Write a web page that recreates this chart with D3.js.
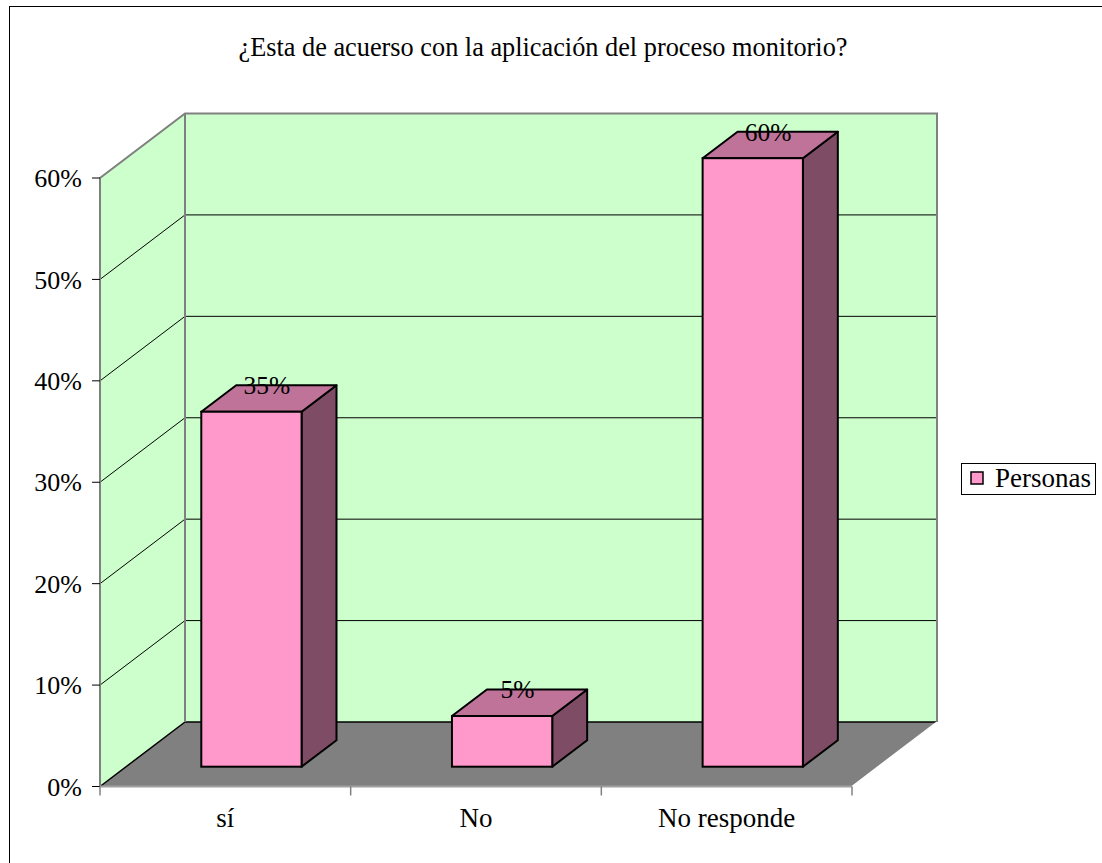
<!DOCTYPE html>
<html>
<head>
<meta charset="utf-8">
<script src="https://cdn.jsdelivr.net/npm/d3@7"></script>
<style>
  body { margin: 0; background: #fff; }
</style>
</head>
<body>
<div id="chart"></div>
<script>
// chart data
var categories = ["sí", "No", "No responde"];
var values = [0.35, 0.05, 0.60];
var valueLabels = ["35%", "5%", "60%"];
var yTicks = [0, 0.1, 0.2, 0.3, 0.4, 0.5, 0.6];
var seriesName = "Personas";
var title = "¿Esta de acuerso con la aplicación del proceso monitorio?";

var width = 1102, height = 863;
var DX = 85, DY = -64.5;           // depth offset of the back wall
var F0 = 0.307, F1 = 0.718;        // depth fraction of bar front / back
var FONT = "'Liberation Serif', 'Times New Roman', Times, serif";

var svg = d3.select("#chart").append("svg")
  .attr("width", width)
  .attr("height", height)
  .attr("font-family", FONT);

// outer chart border (runs off the bottom/right of the picture)
svg.append("rect")
  .attr("x", 9.5).attr("y", 6.5)
  .attr("width", 1100).attr("height", 870)
  .attr("fill", "#fff").attr("stroke", "#000").attr("stroke-width", 1);

var x = d3.scaleBand().domain(categories).range([100, 852]);
var y = d3.scaleLinear().domain([0, 0.6]).range([786.5, 178]);

function pts(arr) {
  return arr.map(function(p) { return p[0] + "," + p[1]; }).join(" ");
}

var x0 = x.range()[0], x1 = x.range()[1];
var yb = y(0), yt = y(0.6);

// side wall
svg.append("polygon")
  .attr("points", pts([[x0, yb], [x0 + DX, yb + DY], [x0 + DX, yt + DY], [x0, yt]]))
  .attr("fill", "#ccffcc");
// back wall
svg.append("polygon")
  .attr("points", pts([[x0 + DX, yb + DY], [x1 + DX, yb + DY], [x1 + DX, yt + DY], [x0 + DX, yt + DY]]))
  .attr("fill", "#ccffcc");
// floor
svg.append("polygon")
  .attr("points", pts([[x0, yb], [x1, yb], [x1 + DX, yb + DY], [x0 + DX, yb + DY]]))
  .attr("fill", "#808080");

// gridlines
var grid = yTicks.filter(function(t) { return t > 0 && t < 0.6; });
svg.selectAll(".grid-back").data(grid).enter().append("line")
  .attr("x1", x0 + DX).attr("x2", x1 + DX)
  .attr("y1", function(d) { return y(d) + DY; })
  .attr("y2", function(d) { return y(d) + DY; })
  .attr("stroke", "#000").attr("stroke-width", 1);
svg.selectAll(".grid-side").data(grid).enter().append("line")
  .attr("x1", x0).attr("x2", x0 + DX)
  .attr("y1", function(d) { return y(d); })
  .attr("y2", function(d) { return y(d) + DY; })
  .attr("stroke", "#000").attr("stroke-width", 1);

// floor edges
svg.append("line").attr("x1", x0 + DX).attr("x2", x1 + DX)
  .attr("y1", yb + DY).attr("y2", yb + DY).attr("stroke", "#000").attr("stroke-width", 1.5);
svg.append("line").attr("x1", x0).attr("x2", x0 + DX)
  .attr("y1", yb).attr("y2", yb + DY).attr("stroke", "#000").attr("stroke-width", 1.5);
svg.append("line").attr("x1", x1).attr("x2", x1 + DX)
  .attr("y1", yb).attr("y2", yb + DY).attr("stroke", "#fff").attr("stroke-width", 1.5);

// wall outline
svg.append("path")
  .attr("d", "M" + x0 + "," + yb + "L" + x0 + "," + yt + "L" + (x0 + DX) + "," + (yt + DY) +
    "L" + (x1 + DX) + "," + (yt + DY) + "L" + (x1 + DX) + "," + (yb + DY))
  .attr("fill", "none").attr("stroke", "#808080").attr("stroke-width", 2);
svg.append("line").attr("x1", x0 + DX).attr("x2", x0 + DX)
  .attr("y1", yt + DY).attr("y2", yb + DY).attr("stroke", "#808080").attr("stroke-width", 2);
svg.append("line").attr("x1", x0).attr("x2", x1)
  .attr("y1", yb).attr("y2", yb).attr("stroke", "#a0a0a0").attr("stroke-width", 2);

// y axis ticks + labels
svg.selectAll(".ytick").data(yTicks).enter().append("line")
  .attr("x1", x0 - 8).attr("x2", x0)
  .attr("y1", function(d) { return y(d); })
  .attr("y2", function(d) { return y(d); })
  .attr("stroke", "#000").attr("stroke-width", 1);
svg.selectAll(".ylab").data(yTicks).enter().append("text")
  .attr("x", 82)
  .attr("y", function(d) { return y(d); })
  .attr("dy", "0.35em")
  .attr("text-anchor", "end")
  .attr("font-size", 26)
  .text(d3.format(".0%"));

// x axis ticks + labels
var xTickPos = categories.map(function(c) { return x(c); }).concat([x1]);
svg.selectAll(".xtick").data(xTickPos).enter().append("line")
  .attr("x1", function(d) { return d; }).attr("x2", function(d) { return d; })
  .attr("y1", yb).attr("y2", yb + 9)
  .attr("stroke", "#808080").attr("stroke-width", 1.5);
svg.selectAll(".xlab").data(categories).enter().append("text")
  .attr("x", function(d) { return x(d) + x.bandwidth() / 2; })
  .attr("y", 827)
  .attr("text-anchor", "middle")
  .attr("font-size", 27)
  .text(function(d) { return d; });

// bars
var bw = x.bandwidth() * 0.4;
var bdx = (F1 - F0) * DX, bdy = (F1 - F0) * DY;
var bars = svg.selectAll(".bar").data(categories).enter().append("g");

function front(d, i) {
  var l = x(d) + (x.bandwidth() - bw) / 2 + F0 * DX;
  return { l: l, r: l + bw, b: y(0) + F0 * DY, t: y(values[i]) + F0 * DY };
}

bars.append("polygon")
  .attr("points", function(d, i) {
    var f = front(d, i);
    return pts([[f.r, f.b], [f.r + bdx, f.b + bdy], [f.r + bdx, f.t + bdy], [f.r, f.t]]);
  })
  .attr("fill", "#7f4c66").attr("stroke", "#000").attr("stroke-width", 2)
  .attr("stroke-linejoin", "round");
bars.append("polygon")
  .attr("points", function(d, i) {
    var f = front(d, i);
    return pts([[f.l, f.t], [f.r, f.t], [f.r + bdx, f.t + bdy], [f.l + bdx, f.t + bdy]]);
  })
  .attr("fill", "#bf7399").attr("stroke", "#000").attr("stroke-width", 2)
  .attr("stroke-linejoin", "round");
bars.append("rect")
  .attr("x", function(d, i) { return front(d, i).l; })
  .attr("y", function(d, i) { return front(d, i).t; })
  .attr("width", bw)
  .attr("height", function(d, i) { var f = front(d, i); return f.b - f.t; })
  .attr("fill", "#ff99cc").attr("stroke", "#000").attr("stroke-width", 2);

// value labels sit on the back edge of the top face
bars.append("text")
  .attr("x", function(d, i) { var f = front(d, i); return (f.l + f.r) / 2 + bdx / 2 - 2; })
  .attr("y", function(d, i) { return front(d, i).t + bdy; })
  .attr("dy", "0.35em")
  .attr("text-anchor", "middle")
  .attr("font-size", 25.5)
  .text(function(d, i) { return valueLabels[i]; });

// title
svg.append("text")
  .attr("x", 543).attr("y", 56)
  .attr("text-anchor", "middle")
  .attr("font-size", 26.3)
  .text(title);

// legend
var legend = svg.append("g").attr("transform", "translate(961,463)");
legend.append("rect")
  .attr("x", 0.5).attr("y", 0.5).attr("width", 134).attr("height", 31)
  .attr("fill", "#fff").attr("stroke", "#000").attr("stroke-width", 1);
legend.append("rect")
  .attr("x", 10).attr("y", 9).attr("width", 12).attr("height", 12)
  .attr("fill", "#ff99cc").attr("stroke", "#000").attr("stroke-width", 1.5);
legend.append("text")
  .attr("x", 34).attr("y", 24)
  .attr("font-size", 27)
  .text(seriesName);
</script>
</body>
</html>
